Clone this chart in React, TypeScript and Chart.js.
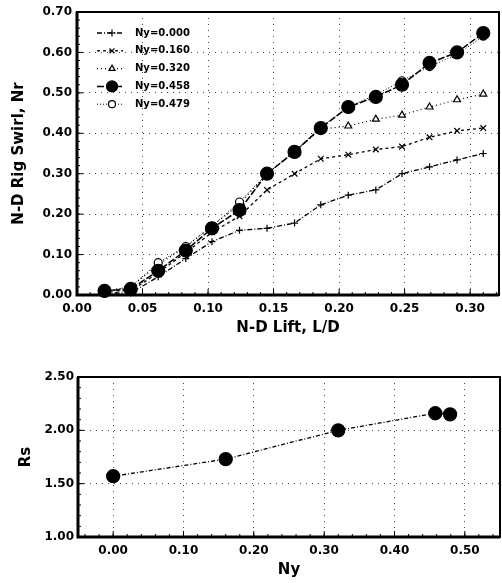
import React, { useEffect, useRef } from "react";
import { Chart, registerables } from "chart.js";
import { drawPoint } from "chart.js/helpers";

Chart.register(...registerables);

// ---------- Data ----------
const liftLD = [0.021, 0.041, 0.062, 0.083, 0.103, 0.124, 0.145, 0.166, 0.186, 0.207, 0.228, 0.248, 0.269, 0.29, 0.31];
const nrNy000 = [0.005, 0.005, 0.045, 0.09, 0.132, 0.16, 0.165, 0.178, 0.223, 0.247, 0.26, 0.3, 0.317, 0.334, 0.35];
const nrNy160 = [0.01, 0.01, 0.055, 0.105, 0.155, 0.195, 0.26, 0.3, 0.337, 0.347, 0.36, 0.367, 0.39, 0.406, 0.413];
const nrNy320 = [0.01, 0.02, 0.075, 0.12, 0.17, 0.225, 0.3, 0.355, 0.41, 0.418, 0.435, 0.445, 0.465, 0.483, 0.497];
const nrNy458 = [0.01, 0.015, 0.06, 0.11, 0.165, 0.21, 0.3, 0.354, 0.413, 0.465, 0.49, 0.52, 0.574, 0.6, 0.648];
const nrNy479 = [0.01, 0.02, 0.08, 0.12, 0.17, 0.23, 0.3, 0.355, 0.415, 0.465, 0.495, 0.53, 0.565, 0.595, 0.64];
const seriesLabels = ["Ny=0.000", "Ny=0.160", "Ny=0.320", "Ny=0.458", "Ny=0.479"];

const topXTicks = [0, 0.05, 0.1, 0.15, 0.2, 0.25, 0.3];
const topYTicks = [0, 0.1, 0.2, 0.3, 0.4, 0.5, 0.6, 0.7];

const nyValues = [0, 0.16, 0.32, 0.458, 0.479];
const rsValues = [1.57, 1.73, 2.0, 2.16, 2.15];
const botXTicks = [0, 0.1, 0.2, 0.3, 0.4, 0.5];
const botYTicks = [1.0, 1.5, 2.0, 2.5];

const FONT = "'DejaVu Sans', 'Liberation Sans', sans-serif";

// ---------- Plugins ----------
const framePlugin = {
  id: "frame",
  afterDraw(chart: any, _args: any, opts: any) {
    const { ctx, chartArea: a, scales } = chart;
    ctx.save();
    ctx.strokeStyle = "#000";
    ctx.lineWidth = 1;
    const xs = scales.x;
    const ys = scales.y;
    const drawX = (step: number, len: number) => {
      const n = Math.round((xs.max - xs.min) / step);
      for (let i = 0; i <= n + 1; i++) {
        const v = Math.ceil(xs.min / step - 1e-9) * step + i * step;
        if (v > xs.max + 1e-9) break;
        const px = xs.getPixelForValue(v);
        ctx.beginPath();
        ctx.moveTo(px, a.bottom);
        ctx.lineTo(px, a.bottom - len);
        ctx.stroke();
      }
    };
    const drawY = (step: number, len: number) => {
      const n = Math.round((ys.max - ys.min) / step);
      for (let i = 0; i <= n + 1; i++) {
        const v = Math.ceil(ys.min / step - 1e-9) * step + i * step;
        if (v > ys.max + 1e-9) break;
        const py = ys.getPixelForValue(v);
        ctx.beginPath();
        ctx.moveTo(a.left, py);
        ctx.lineTo(a.left + len, py);
        ctx.stroke();
      }
    };
    if (opts.xMinor) drawX(opts.xMinor, 3);
    if (opts.xMajor) drawX(opts.xMajor, 6);
    if (opts.yMinor) drawY(opts.yMinor, 3);
    if (opts.yMajor) drawY(opts.yMajor, 6);
    ctx.lineWidth = 2;
    ctx.strokeRect(a.left, a.top, a.right - a.left, a.bottom - a.top);
    ctx.lineWidth = 3;
    ctx.beginPath();
    ctx.moveTo(a.left, a.top);
    ctx.lineTo(a.left, a.bottom);
    ctx.lineTo(a.right, a.bottom);
    ctx.stroke();
    ctx.restore();
  },
};

const innerLegendPlugin = {
  id: "innerLegend",
  afterDraw(chart: any, _args: any, opts: any) {
    if (!opts || !opts.display) return;
    const { ctx } = chart;
    const x0 = opts.x;
    let y = opts.y;
    ctx.save();
    chart.data.datasets.forEach((ds: any) => {
      ctx.strokeStyle = ds.borderColor;
      ctx.lineWidth = ds.borderWidth;
      ctx.setLineDash(ds.borderDash || []);
      ctx.beginPath();
      ctx.moveTo(x0, y);
      ctx.lineTo(x0 + 26, y);
      ctx.stroke();
      ctx.setLineDash([]);
      ctx.fillStyle = ds.pointBackgroundColor;
      ctx.strokeStyle = ds.pointBorderColor;
      ctx.lineWidth = ds.pointBorderWidth;
      drawPoint(ctx, { pointStyle: ds.pointStyle, radius: ds.legendRadius || ds.pointRadius, rotation: 0, borderWidth: ds.pointBorderWidth }, x0 + 15, y);
      ctx.fillStyle = "#000";
      ctx.font = `bold 10px ${FONT}`;
      ctx.textBaseline = "middle";
      ctx.textAlign = "left";
      ctx.fillText(ds.label, x0 + 38, y);
      y += opts.rowGap;
    });
    ctx.restore();
  },
};

Chart.register(framePlugin, innerLegendPlugin);

const gridCommon = {
  color: "#444",
  lineWidth: 1,
  drawTicks: false,
};
const borderCommon = { display: false, dash: [1, 5] };

const fitX = (h: number) => (s: any) => {
  s.height = h;
  s.paddingLeft = 0;
  s.paddingRight = 0;
};
const fitY = (w: number) => (s: any) => {
  s.width = w;
  s.paddingTop = 0;
  s.paddingBottom = 0;
};

function TopChart() {
  const ref = useRef<HTMLCanvasElement>(null);
  useEffect(() => {
    const series = [nrNy000, nrNy160, nrNy320, nrNy458, nrNy479];
    const styles = [
      { dash: [5, 2, 1, 2], ps: "cross", r: 3.5, lr: 3.5, bg: "#000", bw: 1.3, order: 2 },
      { dash: [3, 3], ps: "crossRot", r: 4, lr: 3.5, bg: "#000", bw: 1.3, order: 2 },
      { dash: [1, 3], ps: "triangle", r: 4, lr: 3.5, bg: "#fff", bw: 1.2, order: 2 },
      { dash: [7, 2], ps: "circle", r: 6.5, lr: 5.5, bg: "#000", bw: 1.5, order: 0 },
      { dash: [1, 2], ps: "circle", r: 4, lr: 3.5, bg: "#fff", bw: 1, order: 1 },
    ];
    const chart = new Chart(ref.current!, {
      type: "line",
      data: {
        datasets: series.map((s, i) => ({
          label: seriesLabels[i],
          data: s.map((v, j) => ({ x: liftLD[j], y: v })),
          borderColor: "#000",
          borderWidth: styles[i].bw,
          borderDash: styles[i].dash,
          pointStyle: styles[i].ps,
          pointRadius: styles[i].r,
          legendRadius: styles[i].lr,
          pointBackgroundColor: styles[i].bg,
          pointBorderColor: "#000",
          pointBorderWidth: 1.2,
          order: styles[i].order,
          fill: false,
          tension: 0,
          clip: 8,
        })),
      },
      options: {
        animation: false,
        responsive: false,
        events: [],
        layout: { autoPadding: false, padding: { top: 12, right: 3, left: 0, bottom: 0 } },
        plugins: {
          legend: { display: false },
          tooltip: { enabled: false },
          frame: { xMinor: 0.01, xMajor: 0.05, yMinor: 0.02, yMajor: 0.1 },
          innerLegend: { display: true, x: 97, y: 33, rowGap: 17.8 },
        } as any,
        scales: {
          x: {
            type: "linear",
            min: 0,
            max: 0.322,
            afterBuildTicks: (s: any) => { s.ticks = topXTicks.map((v) => ({ value: v })); },
            afterFit: fitX(50),
            grid: gridCommon,
            border: borderCommon,
            ticks: {
              padding: 7,
              color: "#000",
              font: { family: FONT, size: 12, weight: "bold" },
              callback: (v: any) => Number(v).toFixed(2),
            },
            title: {
              display: true,
              text: "N-D Lift, L/D",
              color: "#000",
              font: { family: FONT, size: 15, weight: "bold" },
              padding: { top: 0, bottom: 8 },
            },
          },
          y: {
            type: "linear",
            min: 0,
            max: 0.7,
            afterBuildTicks: (s: any) => { s.ticks = topYTicks.map((v) => ({ value: v })); },
            afterFit: fitY(77),
            grid: gridCommon,
            border: borderCommon,
            ticks: {
              padding: 5,
              color: "#000",
              font: { family: FONT, size: 12, weight: "bold" },
              callback: (v: any) => Number(v).toFixed(2),
            },
            title: {
              display: true,
              text: "N-D Rig Swirl, Nr",
              color: "#000",
              font: { family: FONT, size: 15, weight: "bold" },
              padding: { top: 10, bottom: 0 },
            },
          },
        },
      } as any,
    });
    return () => chart.destroy();
  }, []);
  return <canvas ref={ref} width={502} height={345} style={{ display: "block" }} />;
}

function BottomChart() {
  const ref = useRef<HTMLCanvasElement>(null);
  useEffect(() => {
    const chart = new Chart(ref.current!, {
      type: "line",
      data: {
        datasets: [
          {
            label: "Rs",
            data: nyValues.map((v, j) => ({ x: v, y: rsValues[j] })),
            borderColor: "#000",
            borderWidth: 1.3,
            borderDash: [4, 2, 1, 2],
            pointStyle: "circle",
            pointRadius: 6.5,
            pointBackgroundColor: "#000",
            pointBorderColor: "#000",
            fill: false,
            tension: 0,
            clip: 8,
          },
        ],
      },
      options: {
        animation: false,
        responsive: false,
        events: [],
        layout: { autoPadding: false, padding: { top: 17, right: 2, left: 0, bottom: 0 } },
        plugins: {
          legend: { display: false },
          tooltip: { enabled: false },
          frame: { xMinor: 0.02, xMajor: 0.1, yMinor: 0.1, yMajor: 0.5 },
          innerLegend: { display: false },
        } as any,
        scales: {
          x: {
            type: "linear",
            min: -0.05,
            max: 0.55,
            afterBuildTicks: (s: any) => { s.ticks = botXTicks.map((v) => ({ value: v })); },
            afterFit: fitX(46),
            grid: gridCommon,
            border: borderCommon,
            ticks: {
              padding: 7,
              color: "#000",
              font: { family: FONT, size: 12, weight: "bold" },
              callback: (v: any) => Number(v).toFixed(2),
            },
            title: {
              display: true,
              text: "Ny",
              color: "#000",
              font: { family: FONT, size: 15, weight: "bold" },
              padding: { top: 0, bottom: 4 },
            },
          },
          y: {
            type: "linear",
            min: 1.0,
            max: 2.5,
            afterBuildTicks: (s: any) => { s.ticks = botYTicks.map((v) => ({ value: v })); },
            afterFit: fitY(78),
            grid: gridCommon,
            border: borderCommon,
            ticks: {
              padding: 4,
              color: "#000",
              font: { family: FONT, size: 12, weight: "bold" },
              callback: (v: any) => Number(v).toFixed(2),
            },
            title: {
              display: true,
              text: "Rs",
              color: "#000",
              font: { family: FONT, size: 15, weight: "bold" },
              padding: { top: 17, bottom: 0 },
            },
          },
        },
      } as any,
    });
    return () => chart.destroy();
  }, []);
  return <canvas ref={ref} width={502} height={223} style={{ display: "block" }} />;
}

export default function App() {
  return (
    <div style={{ position: "absolute", left: 0, top: 0, width: 502, height: 583, background: "#fff" }}>
      <div style={{ position: "absolute", left: 0, top: 0 }}>
        <TopChart />
      </div>
      <div style={{ position: "absolute", left: 0, top: 360 }}>
        <BottomChart />
      </div>
    </div>
  );
}
